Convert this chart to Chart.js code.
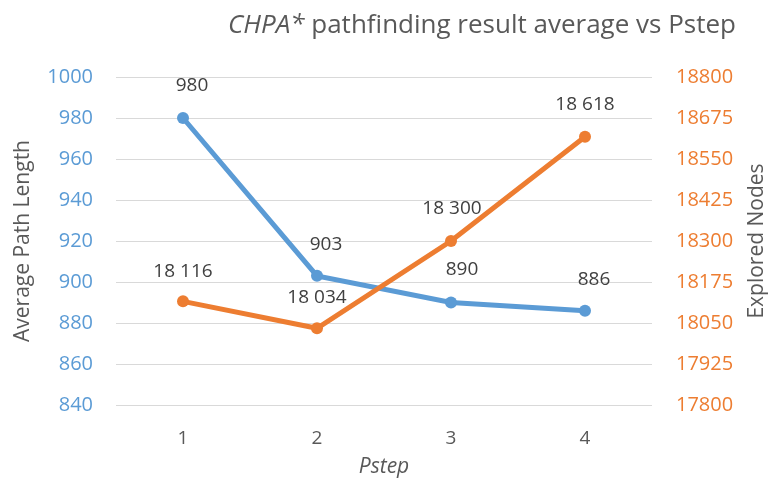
<!DOCTYPE html>
<html>
<head>
<meta charset="utf-8">
<script src="https://cdn.jsdelivr.net/npm/chart.js@4"></script>
<style>
html,body{margin:0;padding:0;background:#fff;}
#wrap{width:769px;height:489px;position:relative;}
</style>
</head>
<body>
<div id="wrap"><canvas id="c" width="769" height="489"></canvas></div>
<script>
const categories = ['1', '2', '3', '4'];
const pathLength = [980, 903, 890, 886];
const exploredNodes = [18116, 18034, 18300, 18618];
const pathLabels = ['980', '903', '890', '886'];
const nodeLabels = ['18 116', '18 034', '18 300', '18 618'];
const titleItalic = 'CHPA*';
const titleRest = ' pathfinding result average vs Pstep';
const rightAxisTitle = 'Explored Nodes';

const BLUE = '#5B9BD5', ORANGE = '#ED7D31', GRID = '#D9D9D9', TEXT = '#595959', LABEL = '#404040';
const FONT = "'Open Sans', sans-serif";

// label offsets [dx, dy] relative to point (style only)
const pathLabelOffsets = [[9, -32], [9, -31], [11, -33], [9, -31]];
const nodeLabelOffsets = [[0, -30], [0, -31], [1, -32], [0, -32]];

const labelPlugin = {
  id: 'labels',
  afterDatasetsDraw(chart) {
    const ctx = chart.ctx;
    ctx.save();
    ctx.font = "19px " + FONT;
    ctx.fillStyle = LABEL;
    ctx.textAlign = 'center';
    ctx.textBaseline = 'middle';
    const sets = [[1, pathLabels, pathLabelOffsets], [0, nodeLabels, nodeLabelOffsets]];
    sets.forEach(([di, labels, offs]) => {
      const meta = chart.getDatasetMeta(di);
      meta.data.forEach((pt, i) => {
        ctx.fillText(labels[i], pt.x + offs[i][0], pt.y + offs[i][1]);
      });
    });
    ctx.restore();
  }
};

const titlePlugin = {
  id: 'customTitle',
  afterDraw(chart) {
    const ctx = chart.ctx;
    ctx.save();
    ctx.fillStyle = TEXT;
    ctx.textBaseline = 'alphabetic';
    ctx.textAlign = 'left';
    const fi = "italic 26px " + FONT, fn = "26px " + FONT;
    ctx.font = fi; const w1 = ctx.measureText(titleItalic).width;
    ctx.font = fn; const w2 = ctx.measureText(titleRest).width;
    const cx = 482;
    const x0 = cx - (w1 + w2) / 2;
    ctx.font = fi; ctx.fillText(titleItalic, x0, 33);
    ctx.font = fn; ctx.fillText(titleRest, x0 + w1, 33);
    // right axis title, reading bottom-to-top
    const ca = chart.chartArea;
    ctx.translate(757, (ca.top + ca.bottom) / 2);
    ctx.rotate(-Math.PI / 2);
    ctx.font = "21px " + FONT;
    ctx.textAlign = 'center';
    ctx.textBaseline = 'middle';
    ctx.fillText(rightAxisTitle, 0, 0);
    ctx.restore();
  }
};

const plain = v => String(v);

new Chart(document.getElementById('c'), {
  type: 'line',
  data: {
    labels: categories,
    datasets: [
      {
        label: 'Explored Nodes',
        data: exploredNodes,
        yAxisID: 'y2',
        borderColor: ORANGE,
        backgroundColor: ORANGE,
        borderWidth: 5,
        pointRadius: 6,
        pointBorderWidth: 0,
        tension: 0,
        order: 0
      },
      {
        label: 'Average Path Length',
        data: pathLength,
        yAxisID: 'y',
        borderColor: BLUE,
        backgroundColor: BLUE,
        borderWidth: 5,
        pointRadius: 6,
        pointBorderWidth: 0,
        tension: 0,
        order: 1
      }
    ]
  },
  options: {
    responsive: false,
    animation: false,
    devicePixelRatio: 1,
    layout: { padding: { top: 77, left: 0, right: 0, bottom: 0 } },
    plugins: { legend: { display: false }, tooltip: { enabled: false }, title: { display: false } },
    scales: {
      x: {
        offset: true,
        grid: { display: false },
        border: { display: false },
        ticks: { color: TEXT, font: { family: FONT, size: 19 }, padding: 14 },
        title: { display: true, text: 'Pstep', color: TEXT, font: { family: FONT, size: 21, style: 'italic' }, padding: { top: 0, bottom: 9 } },
        afterFit(s) { s.height = 84; }
      },
      y: {
        position: 'left',
        min: 840, max: 1000,
        ticks: { stepSize: 20, color: BLUE, font: { family: FONT, size: 20 }, padding: 23, callback: plain },
        grid: { color: GRID, lineWidth: 1, drawTicks: false },
        border: { display: false },
        title: { display: true, text: 'Average Path Length', color: TEXT, font: { family: FONT, size: 21 }, padding: { top: 10, bottom: 0 } },
        afterFit(s) { s.width = 116; }
      },
      y2: {
        position: 'right',
        min: 17800, max: 18800,
        ticks: { stepSize: 125, color: ORANGE, font: { family: FONT, size: 20 }, padding: 24, callback: plain },
        grid: { drawOnChartArea: false, drawTicks: false },
        border: { display: false },
        title: { display: false },
        afterFit(s) { s.width = 117; }
      }
    }
  },
  plugins: [labelPlugin, titlePlugin]
});
</script>
</body>
</html>
